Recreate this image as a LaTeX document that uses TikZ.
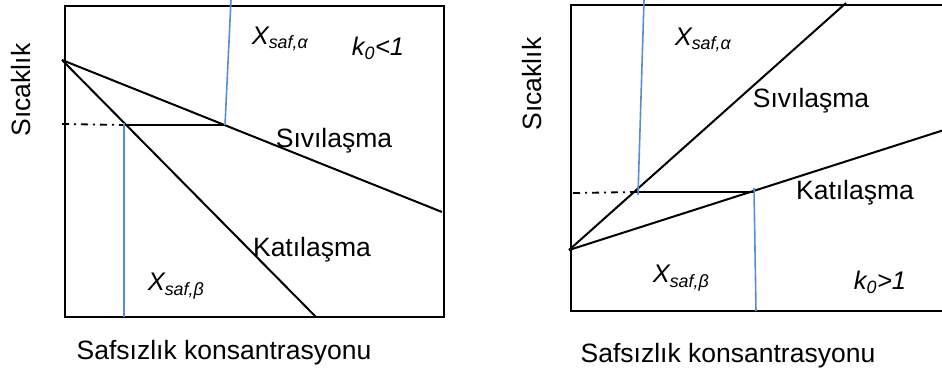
\documentclass[tikz,border=0pt]{standalone}
\usepackage{fontspec}
\setmainfont{Liberation Sans}
\definecolor{tieblue}{RGB}{85,142,213}
\tikzset{
  curve/.style={line width=2pt},
  dashdot/.style={line width=1.8pt, dash pattern=on 7pt off 5pt on 2pt off 5pt},
  tie/.style={line width=1.6pt, tieblue},
  lbl/.style={inner sep=0pt, font=\fontsize{26.5}{30}\selectfont},
  ilbl/.style={lbl, font=\fontsize{25.5}{30}\selectfont\itshape}
}

\begin{document}
\begin{tikzpicture}[x=1pt,y=-1pt]
  \useasboundingbox (0,0) rectangle (942,376);

  % Left: k0<1
  \draw[curve] (65,6) rectangle (444,317);
  \coordinate (Ltop) at (62,60);
  \coordinate (Lliq) at (442,212);
  \coordinate (Lsol) at (316,317);
  \coordinate (La) at (225,125);
  \coordinate (Lb) at (125,125);
  \draw[curve] (Ltop) -- (Lliq);
  \draw[curve] (Ltop) -- (Lsol);
  \draw[curve] (Lb) -- (La);
  \draw[dashdot] (62,124) -- (Lb);
  \draw[tie] (231,0) -- (La);
  \draw[tie] (124,123) -- (124,317);
  \node[ilbl] (Lxa) at (280,39) {X\textsubscript{saf,α}};
  \node[ilbl] (Lk) at (378,48) {k\textsubscript{0}<1};
  \node[lbl] (Lsiv) at (334,141) {Sıvılaşma};
  \node[lbl] (Lkat) at (312,250) {Katılaşma};
  \node[ilbl] (Lxb) at (176,286) {X\textsubscript{saf,β}};
  \node[lbl,rotate=90] (Ly) at (21,90) {Sıcaklık};
  \node[lbl] (Lx) at (224,353) {Safsızlık konsantrasyonu};

  % Right: k0>1
  \draw[curve] (571,5) rectangle (960,311);
  \coordinate (Rbot) at (569,250);
  \coordinate (Rliq) at (846,3);
  \coordinate (Rsol) at (944,130);
  \coordinate (Ra) at (637,192);
  \coordinate (Rb) at (754,192);
  \draw[curve] (Rbot) -- (Rliq);
  \draw[curve] (Rbot) -- (Rsol);
  \draw[curve] (Ra) -- (Rb);
  \draw[dashdot] (573,193) -- (Ra);
  \draw[tie] (644,0) -- (638,195);
  \draw[tie] (754,188) -- (756,311);
  \node[ilbl] (Rxa) at (703,40) {X\textsubscript{saf,α}};
  \node[lbl] (Rsiv) at (811,101) {Sıvılaşma};
  \node[lbl] (Rkat) at (855,193) {Katılaşma};
  \node[ilbl] (Rxb) at (681,278) {X\textsubscript{saf,β}};
  \node[ilbl] (Rk) at (880,282) {k\textsubscript{0}>1};
  \node[lbl,rotate=90] (Ry) at (532,84) {Sıcaklık};
  \node[lbl] (Rx) at (728,356) {Safsızlık konsantrasyonu};
\end{tikzpicture}
\end{document}
